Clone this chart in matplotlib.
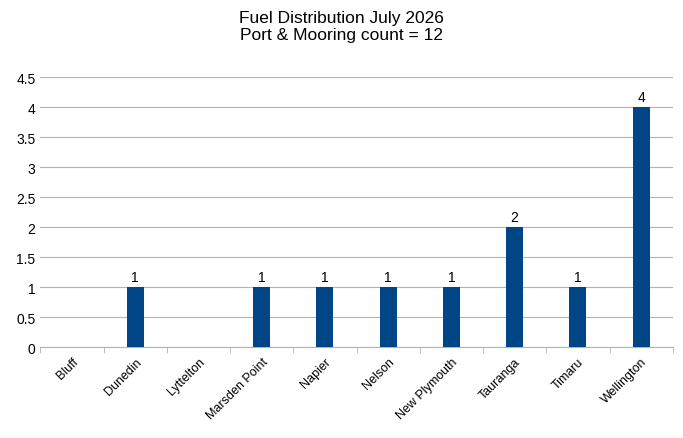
import matplotlib.pyplot as plt
import numpy as np

plt.rcParams["font.family"] = ["Liberation Sans", "DejaVu Sans"]

ports = ["Bluff", "Dunedin", "Lyttelton", "Marsden Point", "Napier", "Nelson",
         "New Plymouth", "Tauranga", "Timaru", "Wellington"]
counts = [0, 1, 0, 1, 1, 1, 1, 2, 1, 4]
bar_labels = ["", "1", "", "1", "1", "1", "1", "2", "1", "4"]

fig = plt.figure(figsize=(6.83, 4.39), dpi=100)
ax = fig.add_axes([0.059, 0.207, 0.926, 0.615])

x = np.arange(len(ports))
bars = ax.bar(x, counts, width=0.27, color="#004586", zorder=3)
for b, lab in zip(bars, bar_labels):
    if lab:
        ax.text(b.get_x() + b.get_width() / 2, b.get_height() + 0.05, lab,
                ha="center", va="bottom", fontsize=10)

ax.set_xlim(-0.5, len(ports) - 0.5)
ax.set_ylim(0, 4.5)
ax.set_yticks(np.arange(0, 4.51, 0.5))
ax.set_yticklabels(["0", "0.5", "1", "1.5", "2", "2.5", "3", "3.5", "4", "4.5"])
ax.grid(axis="y", color="#b3b3b3", linewidth=0.8, zorder=0)
ax.set_xticks(x)
ax.set_xticklabels(ports, rotation=45, ha="right", rotation_mode="anchor", fontsize=9)
ax.set_xticks(np.arange(-0.5, len(ports)), minor=True)
ax.tick_params(axis="x", which="major", length=0, pad=6)
ax.tick_params(axis="x", which="minor", length=4, color="#b3b3b3")
ax.tick_params(axis="y", length=0, labelsize=10)
for side in ["top", "right", "left"]:
    ax.spines[side].set_visible(False)
ax.spines["bottom"].set_color("#b3b3b3")

fig.suptitle("Fuel Distribution July 2026\nPort & Mooring count = 12",
             y=0.975, fontsize=12.5, linespacing=1.2)
fig.savefig("out.png", dpi=100)
